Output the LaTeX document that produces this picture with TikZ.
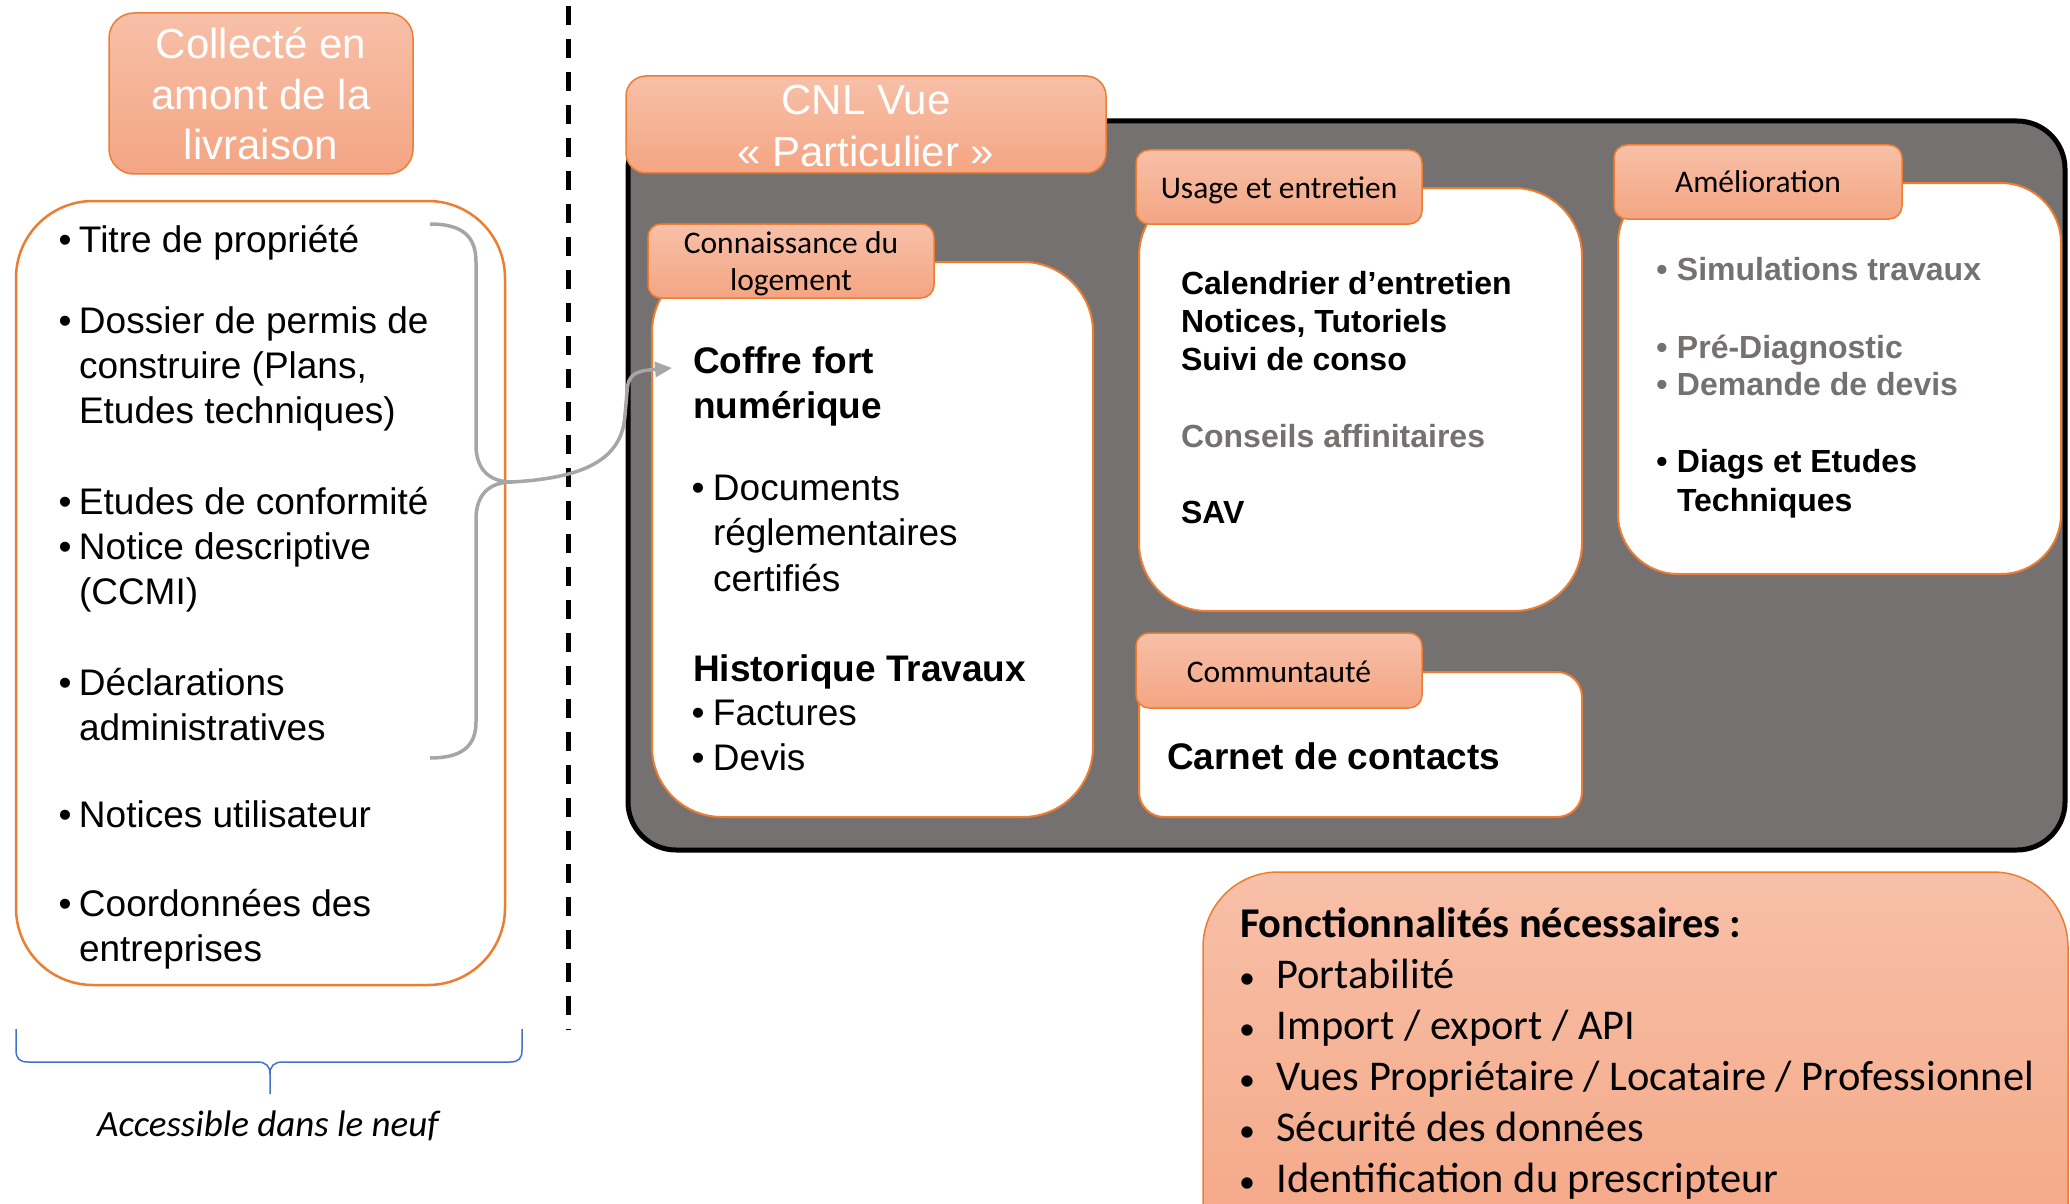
\documentclass[tikz,border=0pt]{standalone}
\usepackage{fontspec}
\setmainfont{Liberation Sans}
\newfontfamily\calfont{Carlito}
\usetikzlibrary{arrows.meta}
\definecolor{orng}{HTML}{ED7D31}
\definecolor{peachtop}{HTML}{F7C0A8}
\definecolor{peachbot}{HTML}{F4A583}
\definecolor{cnlgray}{HTML}{767171}
\definecolor{txtgray}{HTML}{767171}
\definecolor{linkgray}{HTML}{A6A6A6}
\definecolor{braceblue}{HTML}{4472C4}
\newcommand\blt[1]{\leavevmode\llap{\makebox[0pt][c]{•}\hspace{#1}}}
\newcommand\sblt[1]{\leavevmode\llap{\makebox[0pt][c]{\fontsize{32}{32}\selectfont •}\hspace{#1}}}
\newcommand\lns[1]{\parbox[t]{900pt}{\raggedright #1}}
\newcommand\clns[1]{\parbox[t]{600pt}{\centering #1}}
\begin{document}
\begin{tikzpicture}[x=1pt,y=-1pt,
  tabbox/.style={draw=orng,line width=1.5pt,top color=peachtop,bottom color=peachbot},
  wbox/.style={draw=orng,line width=2pt,fill=white},
  txt/.style={inner sep=0pt,outer sep=0pt,anchor=base west},
  ctxt/.style={inner sep=0pt,outer sep=0pt,anchor=base},
  arialL/.style={font=\fontsize{37}{45}\selectfont},
  arialB/.style={font=\fontsize{37}{45}\selectfont\bfseries},
  arialM/.style={font=\fontsize{32}{38}\selectfont\bfseries},
  titlefont/.style={font=\fontsize{42}{50.5}\selectfont,text=white},
  tabfont/.style={font=\calfont\fontsize{31.5}{37}\selectfont},
  calL/.style={font=\calfont\fontsize{42.4}{51}\selectfont},
  link/.style={linkgray,line width=3.5pt},
]
\useasboundingbox (0,0) rectangle (2070,1204);
\clip (0,0) rectangle (2070,1204);
\fill[white] (0,0) rectangle (2070,1204);

% ---------- left column ----------
\draw[tabbox,rounded corners=25pt] (109,13) rectangle (413,174);
\node[ctxt,titlefont] (collecttxt) at (261,59) {\clns{Collecté en\\amont de la\\livraison}};
\draw[draw=orng,line width=2.5pt,rounded corners=77pt] (16,201) rectangle (505,985);

\node[txt,arialL] (l1) at (79,252) {\lns{\blt{14pt}Titre de propriété}};
\node[txt,arialL] (l2) at (79,333) {\lns{\blt{14pt}Dossier de permis de\\construire (Plans,\\Etudes techniques)}};
\node[txt,arialL] (l3) at (79,514) {\lns{\blt{14pt}Etudes de conformité}};
\node[txt,arialL] (l4) at (79,559) {\lns{\blt{14pt}Notice descriptive\\(CCMI)}};
\node[txt,arialL] (l5) at (79,695) {\lns{\blt{14pt}Déclarations\\administratives}};
\node[txt,arialL] (l6) at (79,827) {\lns{\blt{14pt}Notices utilisateur}};
\node[txt,arialL] (l7) at (79,916) {\lns{\blt{14pt}Coordonnées des\\entreprises}};

% blue brace
\coordinate (bluetip) at (270,1094);
\draw[braceblue,line width=1.5pt] (16,1029) -- (16,1050) .. controls (16,1058) and (19,1062) .. (28,1062) -- (257,1062) .. controls (266,1062) and (270,1066) .. (270,1074) -- (bluetip);
\draw[braceblue,line width=1.5pt] (270,1074) .. controls (270,1066) and (274,1062) .. (283,1062) -- (510,1062) .. controls (519,1062) and (522,1058) .. (522,1050) -- (522,1029);
\node[ctxt,font=\calfont\itshape\fontsize{37}{45}\selectfont] (acc) at (268,1136) {Accessible dans le neuf};

% dashed separator
\draw[line width=5pt,dash pattern=on 19pt off 14pt] (568,6) -- (568,1030);

% ---------- dark panel ----------
\draw[fill=cnlgray,draw=black,line width=5pt,rounded corners=48pt] (628,121) rectangle (2065,850);
\draw[tabbox,rounded corners=20pt] (626,76) rectangle (1106,173);
\node[ctxt,font=\fontsize{42}{52}\selectfont,text=white] (cnltxt) at (866,115) {\clns{CNL Vue\\«~Particulier~»}};

% Connaissance du logement
\draw[wbox,rounded corners=70pt] (652,262) rectangle (1093,817);
\draw[tabbox,rounded corners=13pt] (648,224) rectangle (934,298);
\node[ctxt,tabfont] (conntab) at (791,253) {\clns{Connaissance du\\logement}};
\node[txt,arialB] (coffre) at (693,373) {\lns{Coffre fort\\numérique}};
\node[txt,font=\fontsize{37}{45.5}\selectfont] (docs) at (713,500) {\lns{\blt{15pt}Documents\\réglementaires\\certifiés}};
\node[txt,arialB] (histo) at (693,681) {\lns{Historique Travaux}};
\node[txt,arialL] (fact) at (713,725) {\lns{\blt{15pt}Factures\\\blt{15pt}Devis}};

% Usage et entretien
\draw[wbox,rounded corners=68pt] (1139,188) rectangle (1582,611);
\draw[tabbox,rounded corners=13pt] (1136,150) rectangle (1422,224);
\node[ctxt,tabfont] (usagetab) at (1279,198) {Usage et entretien};
\node[txt,arialM] (cal) at (1181,294) {\lns{Calendrier d’entretien\\Notices, Tutoriels\\Suivi de conso}};
\node[txt,arialM,text=txtgray] (cons) at (1181,447) {Conseils affinitaires};
\node[txt,arialM] (sav) at (1181,523) {SAV};

% Amelioration
\draw[wbox,rounded corners=60pt] (1618,183) rectangle (2061,574);
\draw[tabbox,rounded corners=13pt] (1614,145) rectangle (1902,219);
\node[ctxt,tabfont] (amelitab) at (1758,193) {Amélioration};
\node[txt,arialM,text=txtgray] (sim) at (1677,280) {\lns{\blt{15pt}Simulations travaux}};
\node[txt,font=\fontsize{32}{37}\selectfont\bfseries,text=txtgray] (prediag) at (1677,358) {\lns{\blt{15pt}Pré-Diagnostic\\\blt{15pt}Demande de devis}};
\node[txt,font=\fontsize{32}{39}\selectfont\bfseries] (diags) at (1677,472) {\lns{\blt{15pt}Diags et Etudes\\Techniques}};

% Communtaute
\draw[wbox,rounded corners=25pt] (1139,672) rectangle (1582,817);
\draw[tabbox,rounded corners=13pt] (1136,633) rectangle (1422,708);
\node[ctxt,tabfont] (commtab) at (1279,682) {Communtauté};
\node[txt,arialB] (carnet) at (1167,769) {Carnet de contacts};

% ---------- brace + connector ----------
\coordinate (bracetop) at (430,224);
\coordinate (bracebot) at (430,758);
\coordinate (bracetip) at (512,482);
\draw[link] (bracetop) .. controls (462,224) and (476,236) .. (476,262) -- (476,445)
  .. controls (476,470) and (490,482) .. (bracetip)
  .. controls (490,482) and (476,494) .. (476,519) -- (476,722)
  .. controls (476,746) and (462,758) .. (bracebot);
\draw[link,-{Triangle[length=17pt,width=15pt]}] (bracetip)
  .. controls (580,478) and (622,462) .. (625,415) -- (627,392)
  .. controls (628,373) and (636,371) .. ([xshift=-21pt,yshift=5pt]coffre.base west);

% ---------- bottom right ----------
\draw[tabbox,rounded corners=75pt] (1203,872) rectangle (2068,1290);
\node[txt,font=\calfont\fontsize{42.4}{51}\selectfont\bfseries] (fonctitle) at (1240,937) {Fonctionnalités nécessaires :};
\node[txt,calL] (fonclist) at (1276.5,988) {\lns{\sblt{29.5pt}Portabilité\\\sblt{29.5pt}Import / export / API\\\sblt{29.5pt}Vues Propriétaire / Locataire / Professionnel\\\sblt{29.5pt}Sécurité des données\\\sblt{29.5pt}Identification du prescripteur}};
\end{tikzpicture}
\end{document}
